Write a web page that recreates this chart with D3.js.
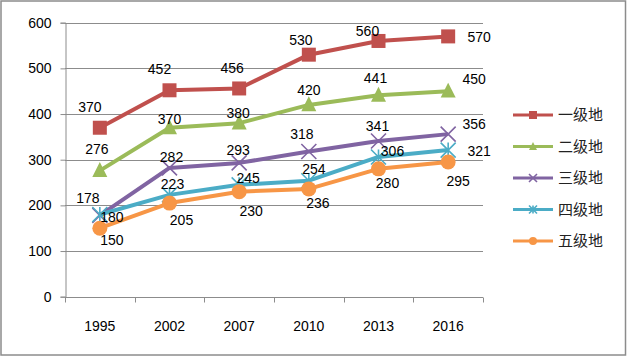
<!DOCTYPE html>
<html>
<head>
<meta charset="utf-8">
<script src="https://cdn.jsdelivr.net/npm/d3@7"></script>
<style>
    html, body { margin: 0; padding: 0; background: #fff; }
    text { font-family: "Liberation Sans", Arial, sans-serif; }
</style>
</head>
<body>
<div id="chart"></div>
<script>
// Data
const years = ['1995', '2002', '2007', '2010', '2013', '2016'];
const seriesNames = ['一级地', '二级地', '三级地', '四级地', '五级地'];
const grade1 = [370, 452, 456, 530, 560, 570];
const grade2 = [276, 370, 380, 420, 441, 450];
const grade3 = [178, 282, 293, 318, 341, 356];
const grade4 = [180, 223, 245, 254, 306, 321];
const grade5 = [150, 205, 230, 236, 280, 295];
const yTicks = [0, 100, 200, 300, 400, 500, 600];

const seriesValues = [grade1, grade2, grade3, grade4, grade5];
const colors = ['#C0504D', '#9BBB59', '#8064A2', '#4BACC6', '#F79646'];
const markers = ['square', 'triangle', 'cross', 'star', 'circle'];

// data label offsets (px from the point), hand placed like in the original
const labelOffsets = [
    [[-10, -21], [-10, -21], [-7, -21], [-8, -15], [-11, -10], [31, 1]],
    [[-3, -22], [0, -9], [-1, -10], [0, -15], [-3, -17], [26, -12]],
    [[-12, -17], [2, -11], [-1, -13], [-7, -18], [-1, -15], [26, -10]],
    [[12, 2], [3, -11], [9, -7], [5, -12], [14, -6], [31, 1]],
    [[12, 12], [12, 17], [12, 19], [9, 14], [9, 14], [10, 19]]
];

const width = 627, height = 357;
const plot = { left: 65, right: 483, top: 22.7, bottom: 296.7 };

const svg = d3.select('#chart').append('svg')
    .attr('width', width)
    .attr('height', height);

// outer chart border
svg.append('rect')
    .attr('x', 1).attr('y', 1)
    .attr('width', width - 2.5).attr('height', height - 3)
    .attr('fill', '#fff')
    .attr('stroke', '#8c8c8c')
    .attr('stroke-width', 1.5);

const x = d3.scaleBand()
    .domain(years)
    .range([plot.left, plot.right]);

const y = d3.scaleLinear()
    .domain([0, 600])
    .range([plot.bottom, plot.top]);

// gridlines
svg.append('g')
    .selectAll('line')
    .data(yTicks.filter(t => t > 0))
    .join('line')
    .attr('x1', plot.left).attr('x2', plot.right)
    .attr('y1', d => Math.round(y(d)) + 0.5)
    .attr('y2', d => Math.round(y(d)) + 0.5)
    .attr('stroke', '#8c8c8c')
    .attr('stroke-width', 1);

// y axis
const yAxis = svg.append('g')
    .attr('transform', `translate(${plot.left + 0.5},0)`)
    .call(d3.axisLeft(y).tickValues(yTicks).tickSize(5).tickPadding(5));
yAxis.select('.domain').attr('stroke', '#8c8c8c');
yAxis.selectAll('.tick line').attr('stroke', '#8c8c8c');
yAxis.selectAll('.tick text')
    .attr('font-size', 14)
    .attr('fill', '#000')
    .attr('dx', -4)
    .style('font-family', '"Liberation Sans", Arial, sans-serif');

// x axis: ticks on category boundaries
const xAxisG = svg.append('g')
    .attr('transform', `translate(0,${Math.round(plot.bottom) + 0.5})`);
xAxisG.append('line')
    .attr('x1', plot.left).attr('x2', plot.right)
    .attr('stroke', '#8c8c8c');
const boundaries = years.map(d => x(d)).concat([plot.right]);
xAxisG.selectAll('line.tk')
    .data(boundaries)
    .join('line')
    .attr('class', 'tk')
    .attr('x1', d => Math.round(d) + 0.5).attr('x2', d => Math.round(d) + 0.5)
    .attr('y1', 0).attr('y2', 5)
    .attr('stroke', '#8c8c8c');
xAxisG.selectAll('text')
    .data(years)
    .join('text')
    .attr('x', d => x(d) + x.bandwidth() / 2)
    .attr('y', 33)
    .attr('text-anchor', 'middle')
    .attr('font-size', 14)
    .attr('fill', '#000')
    .text(d => d);

const cx = d => x(d) + x.bandwidth() / 2;

function drawMarker(g, type, color, size) {
    const s = size;
    if (type === 'square') {
        g.append('rect')
            .attr('x', -s / 2).attr('y', -s / 2)
            .attr('width', s).attr('height', s)
            .attr('fill', color);
    } else if (type === 'triangle') {
        const h = s * 0.95;
        g.append('path')
            .attr('d', `M0,${-h * 0.6}L${s / 2},${h * 0.45}L${-s / 2},${h * 0.45}Z`)
            .attr('fill', color);
    } else if (type === 'circle') {
        g.append('circle').attr('r', s / 2).attr('fill', color);
    } else if (type === 'cross') {
        const r = s / 2;
        g.append('path')
            .attr('d', `M${-r},${-r}L${r},${r}M${-r},${r}L${r},${-r}`)
            .attr('stroke', color).attr('stroke-width', 1.6).attr('fill', 'none');
    } else if (type === 'star') {
        const r = s / 2;
        g.append('path')
            .attr('d', `M${-r},${-r}L${r},${r}M${-r},${r}L${r},${-r}M0,${-r}L0,${r}`)
            .attr('stroke', color).attr('stroke-width', 1.6).attr('fill', 'none');
    }
}

const line = d3.line()
    .x((d, i) => cx(years[i]))
    .y(d => y(d));

// series lines and markers
seriesValues.forEach((vals, si) => {
    const g = svg.append('g');
    g.append('path')
        .datum(vals)
        .attr('d', line)
        .attr('fill', 'none')
        .attr('stroke', colors[si])
        .attr('stroke-width', 4)
        .attr('stroke-linejoin', 'round');

    g.selectAll('g.mk')
        .data(vals)
        .join('g')
        .attr('class', 'mk')
        .attr('transform', (d, i) => `translate(${cx(years[i])},${y(d)})`)
        .each(function() {
            drawMarker(d3.select(this), markers[si], colors[si], markers[si] === 'square' ? 14 : 15);
        });
});

// data labels
seriesValues.forEach((vals, si) => {
    svg.append('g')
        .selectAll('text')
        .data(vals)
        .join('text')
        .attr('x', (d, i) => cx(years[i]) + labelOffsets[si][i][0])
        .attr('y', (d, i) => y(d) + labelOffsets[si][i][1])
        .attr('dy', '0.36em')
        .attr('text-anchor', 'middle')
        .attr('font-size', 14)
        .attr('fill', '#000')
        .text(d => d);
});

// legend
const legend = svg.append('g')
    .attr('transform', 'translate(513,115)');
seriesNames.forEach((name, si) => {
    const item = legend.append('g')
        .attr('transform', `translate(0,${si * 31.5})`);
    item.append('line')
        .attr('x1', 0).attr('x2', 40)
        .attr('stroke', colors[si])
        .attr('stroke-width', 3);
    const m = item.append('g').attr('transform', 'translate(20,0)');
    drawMarker(m, markers[si], colors[si], 8);
    item.append('text')
        .attr('x', 45)
        .attr('dy', '0.36em')
        .attr('font-size', 15)
        .attr('fill', '#222')
        .style('font-family', '"Noto Sans CJK SC", sans-serif')
        .text(name);
});
</script>
</body>
</html>
